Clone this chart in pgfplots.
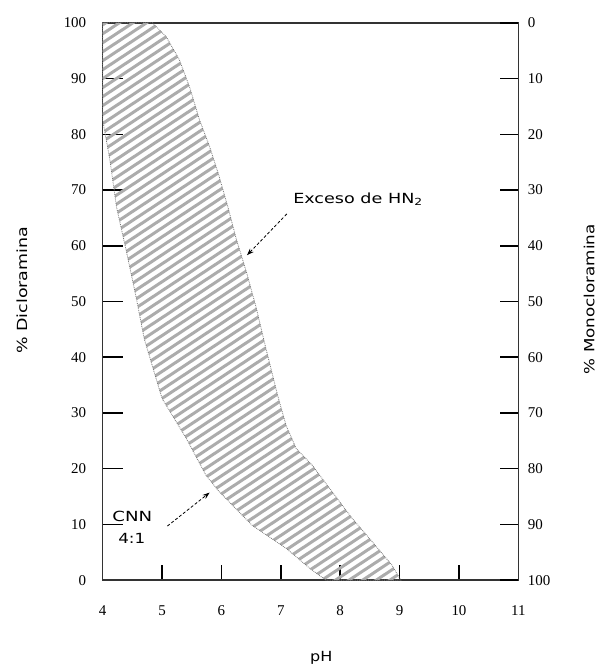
\documentclass[border=0pt]{standalone}
\usepackage{fontspec}
\setmainfont{Liberation Serif}
\newfontfamily\sansf{DejaVu Sans}
\usepackage{pgfplots}
\pgfplotsset{compat=1.18}
\usetikzlibrary{arrows.meta}
\definecolor{hatch}{RGB}{172,172,172}
\definecolor{edge}{RGB}{120,120,120}
\begin{document}
\begin{tikzpicture}
\begin{axis}[
 scale only axis, width=417pt, height=559pt,
 xmin=4,xmax=11,ymin=0,ymax=100,
 xtick={4,...,11}, ytick={0,10,...,100},
 xtick pos=bottom, ytick pos=left, tick align=inside,
 major tick length=20pt,
 xtick style={/pgfplots/major tick length=15pt, line width=1.5pt, black},
 ytick style={line width=1.5pt, black},
 axis line style={line width=1.4pt, black!80},
 /pgf/number format/assume math mode=true,
 ticklabel style={font=\fontsize{15}{15}\selectfont},
 yticklabel style={xshift=-13pt},
 xticklabel style={yshift=-22pt},
 clip=false,
]
\path (axis cs:2.271,104.1) rectangle (axis cs:12.31,-15.38);
\begin{scope}
\clip (axis cs:4,82.6) -- (axis cs:4.12,75.5) -- (axis cs:4.23,67.1) -- (axis cs:4.4,59)
 -- (axis cs:4.57,50.4) -- (axis cs:4.7,43.3) -- (axis cs:5.0,32.6) -- (axis cs:5.41,25.4)
 -- (axis cs:5.74,18.8) -- (axis cs:5.96,15.9) -- (axis cs:6.52,9.8) -- (axis cs:7.09,5.7)
 -- (axis cs:7.5,2) -- (axis cs:7.76,0) -- (axis cs:9.02,0) -- (axis cs:8.87,2.7)
 -- (axis cs:8.53,7.0) -- (axis cs:8.20,11.1) -- (axis cs:7.86,15.9) -- (axis cs:7.53,20.6)
 -- (axis cs:7.26,23.6) -- (axis cs:7.09,27.7) -- (axis cs:6.95,33) -- (axis cs:6.75,41.5)
 -- (axis cs:6.59,48.7) -- (axis cs:6.42,55.3) -- (axis cs:6.25,61.2) -- (axis cs:6.12,66.5)
 -- (axis cs:5.96,72.5) -- (axis cs:5.80,77.8) -- (axis cs:5.63,82.6) -- (axis cs:5.46,88.6)
 -- (axis cs:5.29,93.4) -- (axis cs:5.07,97.5) -- (axis cs:4.84,100) -- (axis cs:4,100) -- cycle;
\pgfplotsinvokeforeach{0,...,95}{
  \draw[hatch, line width=3pt] (axis cs:4,0) ++(0pt,-280pt+#1*9pt) -- ++(417pt,275pt);
}
\end{scope}
\addplot[draw=edge, densely dotted, line width=0.8pt]
 coordinates {
 (4,82.6) (4.12,75.5) (4.23,67.1) (4.4,59) (4.57,50.4) (4.7,43.3) (5.0,32.6)
 (5.41,25.4) (5.74,18.8) (5.96,15.9) (6.52,9.8) (7.09,5.7) (7.5,2) (7.76,0)
 (9.02,0) (8.87,2.7) (8.53,7.0) (8.20,11.1) (7.86,15.9) (7.53,20.6)
 (7.26,23.6) (7.09,27.7) (6.95,33) (6.75,41.5) (6.59,48.7) (6.42,55.3)
 (6.25,61.2) (6.12,66.5) (5.96,72.5) (5.80,77.8) (5.63,82.6) (5.46,88.6)
 (5.29,93.4) (5.07,97.5) (4.84,100) (4,100)
 } -- cycle;
\node[anchor=west, font=\sansf\fontsize{14}{14}\selectfont] at (axis cs:7.15,68.3)
  {\scalebox{1.26}[1]{Exceso de HN\textsubscript{2}}};
\draw[densely dashed, line width=0.8pt, -{Stealth[length=7pt,width=5pt]}]
  (axis cs:7.1,65.7) -- (axis cs:6.43,58.3);
\node[font=\sansf\fontsize{14}{14}\selectfont] at (axis cs:4.5,11.4) {\scalebox{1.3}[1]{CNN}};
\node[font=\sansf\fontsize{14}{14}\selectfont] at (axis cs:4.49,7.5) {\scalebox{1.2}[1]{4:1}};
\draw[densely dashed, line width=0.8pt, -{Stealth[length=7pt,width=5pt]}]
  (axis cs:5.09,9.7) -- (axis cs:5.80,15.7);
\node[font=\sansf\fontsize{14}{14}\selectfont] at (axis cs:7.68,-14) {\scalebox{1.15}[1]{pH}};
\node[rotate=90, font=\sansf\fontsize{14}{14}\selectfont] at (axis cs:2.64,52)
  {\scalebox{1.25}[1]{\% Dicloramina}};
\node[rotate=90, font=\sansf\fontsize{14}{14}\selectfont] at (axis cs:12.19,50.4)
  {\scalebox{1.2}[1]{\% Monocloramina}};
\end{axis}
\begin{axis}[
 scale only axis, width=417pt, height=559pt,
 xmin=4,xmax=11,ymin=0,ymax=100,
 y dir=reverse,
 axis x line=none, axis y line*=right,
 ytick={0,10,...,100}, tick align=inside,
 major tick length=18pt,
 ytick style={line width=1.5pt, black},
 axis line style={line width=1.4pt, black!80},
 /pgf/number format/assume math mode=true,
 ticklabel style={font=\fontsize{15}{15}\selectfont},
 yticklabel style={xshift=6pt},
]
\end{axis}
\end{tikzpicture}
\end{document}
